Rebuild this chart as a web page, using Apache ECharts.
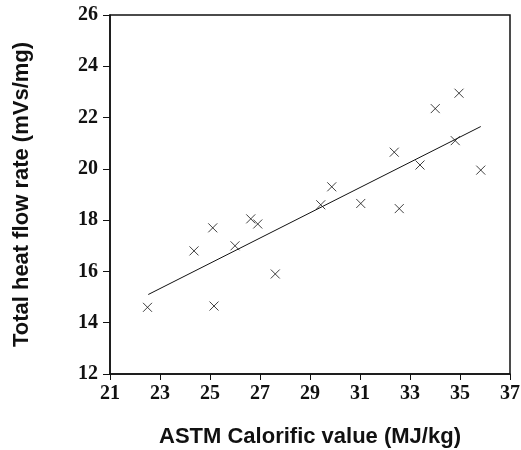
<!DOCTYPE html>
<html>
<head>
<meta charset="utf-8">
<script src="https://cdn.jsdelivr.net/npm/echarts@6/dist/echarts.min.js"></script>
<style>
  html, body { margin: 0; padding: 0; background: #fff; }
  #chart { width: 521px; height: 450px; }
</style>
</head>
<body>
<div id="chart"></div>
<script>
// measured points (ASTM calorific value, total heat flow rate)
const calorific = [22.5, 24.36, 25.11, 25.16, 26.0, 26.63, 26.91, 27.61, 29.43, 29.87, 31.03, 32.57, 32.37, 33.4, 34.01, 34.81, 34.96, 35.83];
const heatFlow = [14.6, 16.8, 17.7, 14.65, 17.0, 18.05, 17.85, 15.9, 18.6, 19.3, 18.65, 18.45, 20.65, 20.15, 22.35, 21.1, 22.95, 19.95];
// regression line end points
const fitX = [22.53, 35.83];
const fitY = [15.1, 21.65];

const chart = echarts.init(document.getElementById('chart'));

const scatterData = calorific.map((x, i) => [x, heatFlow[i]]);
const fitData = fitX.map((x, i) => [x, fitY[i]]);

const tickFont = {
  fontFamily: 'Liberation Serif',
  fontWeight: 'bold',
  fontSize: 20,
  color: '#111'
};
const titleFont = { fontFamily: 'Liberation Sans', fontWeight: 'bold', fontSize: 22, color: '#111' };

chart.setOption({
  animation: false,
  backgroundColor: '#fff',
  grid: {
    left: 110, right: 11, top: 15, bottom: 76,
    outerBoundsMode: 'none', // keep the plot box fixed
    show: true, borderColor: '#111', borderWidth: 1.5, backgroundColor: 'transparent'
  },
  xAxis: {
    type: 'value',
    min: 21,
    max: 37,
    interval: 2,
    name: 'ASTM Calorific value (MJ/kg)',
    nameLocation: 'middle',
    nameGap: 52,
    nameTextStyle: titleFont,
    axisLine: { lineStyle: { color: '#111', width: 1.5 } },
    axisTick: { inside: false, length: 6, lineStyle: { color: '#111' } },
    axisLabel: Object.assign({ margin: 10 }, tickFont),
    splitLine: { show: false }
  },
  yAxis: {
    type: 'value',
    min: 12,
    max: 26,
    interval: 2,
    name: 'Total heat flow rate (mVs/mg)',
    nameLocation: 'middle',
    nameGap: 77,
    nameTextStyle: titleFont,
    axisLine: { lineStyle: { color: '#111', width: 1.5 } },
    axisTick: { inside: false, length: 7, lineStyle: { color: '#111' } },
    axisLabel: Object.assign({ margin: 12 }, tickFont),
    splitLine: { show: false }
  },
  series: [
    {
      type: 'scatter',
      data: scatterData,
      symbol: 'path://M0,0L10,10M10,0L0,10',
      symbolSize: 9,
      itemStyle: { color: 'none', borderColor: '#111', borderWidth: 1 }
    },
    {
      type: 'line',
      data: fitData,
      showSymbol: false,
      lineStyle: { color: '#111', width: 1 }
    }
  ]
});
</script>
</body>
</html>
